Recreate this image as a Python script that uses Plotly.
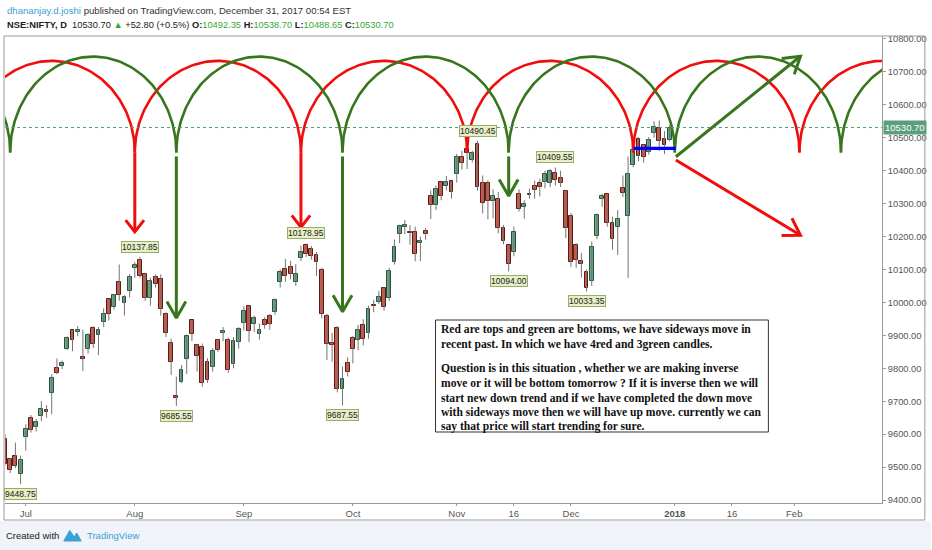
import math
import plotly.graph_objects as go

# ---------------- data (NSE:NIFTY daily, 27 Jun 2017 .. 29 Dec 2017) ----------------
opens = [9585, 9524, 9535, 9478, 9593, 9648, 9621, 9654, 9672, 9724,
         9800, 9806, 9860, 9915, 9910, 9835, 9859, 9922, 9902, 9940,
         10011, 9985, 10063, 9998, 10035, 10103, 10130, 10085, 10013, 10078,
         10071, 9964, 9876, 9716, 9758, 9828, 9946, 9870, 9866, 9820,
         9805, 9886, 9907, 9886, 9813, 9880, 9937, 9988, 9933, 9905,
         9948, 9958, 9970, 10063, 10102, 10108, 10062, 10134, 10175, 10163,
         10144, 10097, 9960, 9876, 9922, 9737, 9817, 9893, 9886, 9930,
         9907, 9991, 10000, 10044, 10012, 10124, 10208, 10230, 10215, 10214,
         10179, 10218, 10324, 10295, 10366, 10354, 10368, 10390, 10440, 10465,
         10432, 10482, 10362, 10361, 10309, 10314, 10227, 10175, 10153, 10328,
         10290, 10330, 10353, 10361, 10366, 10362, 10393, 10378, 10337, 10263,
         10175, 10125, 10092, 10066, 10202, 10313, 10328, 10240, 10230, 10348,
         10263, 10417, 10497, 10477, 10457, 10513, 10530, 10497, 10492.35]
highs = [9600, 9528, 9575, 9535, 9630, 9658, 9646, 9700, 9688, 9782,
         9830, 9824, 9897, 9917, 9928, 9917, 9907, 9928, 9925, 9982,
         10011, 10025, 10115, 10022, 10086, 10123, 10137.85, 10090, 10075, 10085,
         10085, 9970, 9890, 9775, 9810, 9903, 9947, 9874, 9875, 9830,
         9861, 9890, 9925, 9893, 9895, 9925, 9988, 9990, 9960, 9936,
         9955, 9965, 10012, 10100, 10132, 10126, 10116, 10172, 10178.95, 10171,
         10153, 10105, 9965, 9907, 9928, 9805, 9833, 9898, 9932, 9949,
         9990, 10008, 10035, 10046, 10105, 10191, 10236, 10250, 10235, 10230,
         10200, 10226, 10340, 10355, 10366, 10384, 10368, 10451, 10460, 10485,
         10460, 10490.45, 10385, 10370, 10343, 10335, 10235, 10175, 10230, 10343,
         10310, 10345, 10370, 10375, 10400, 10405, 10409.55, 10400, 10340, 10272,
         10180, 10150, 10100, 10185, 10270, 10330, 10330, 10260, 10280, 10385,
         10443, 10470, 10502, 10480, 10502, 10550, 10552, 10520, 10538.70]
lows = [9505, 9482, 9497, 9448.75, 9550, 9605, 9608, 9640, 9650, 9660,
        9782, 9798, 9856, 9852, 9898, 9792, 9845, 9862, 9840, 9925,
        9945, 9978, 10005, 9960, 10015, 10075, 10075, 10005, 9990, 10045,
        9960, 9895, 9780, 9685.55, 9755, 9783, 9883, 9790, 9744, 9756,
        9790, 9850, 9882, 9786, 9800, 9860, 9915, 9880, 9911, 9887,
        9920, 9917, 9963, 10045, 10063, 10070, 10050, 10125, 10138, 10130,
        10080, 9952, 9825, 9820, 9727, 9687.55, 9775, 9815, 9855, 9870,
        9890, 9970, 9995, 9975, 10005, 10115, 10180, 10207, 10175, 10125,
        10125, 10190, 10253, 10280, 10310, 10340, 10315, 10364, 10403, 10405,
        10425, 10340, 10270, 10252, 10255, 10210, 10176, 10094, 10140, 10276,
        10254, 10315, 10315, 10322, 10346, 10350, 10355, 10350, 10195, 10108,
        10105, 10075, 10033.35, 10050, 10192, 10290, 10230, 10160, 10144, 10320,
        10074, 10410, 10428, 10424, 10448, 10500, 10460, 10450, 10488.65]
closes = [9511, 9491, 9504, 9521, 9615, 9613, 9638, 9675, 9666, 9771,
          9786, 9816, 9892, 9886, 9916, 9827, 9900, 9873, 9915, 9966,
          9965, 10021, 10021, 10015, 10077, 10115, 10081.5, 10014, 10066, 10057,
          9979, 9908, 9820, 9711, 9794, 9897, 9904, 9837, 9754, 9766,
          9853, 9857, 9913, 9796, 9884, 9918, 9974, 9913, 9952, 9916,
          9930, 9935, 10006, 10093, 10079, 10087, 10085, 10153, 10147.5, 10141,
          10122, 9964, 9873, 9871.5, 9736, 9769, 9789, 9860, 9915, 9889,
          9980, 9989, 10017, 9985, 10096, 10167, 10231, 10234, 10211, 10147,
          10185, 10208, 10295, 10344, 10323, 10364, 10335, 10440.5, 10423.5, 10452.5,
          10452, 10350, 10303, 10309, 10322, 10225, 10187, 10118, 10215, 10284,
          10299, 10327, 10342, 10349, 10390, 10400, 10370, 10361, 10227, 10122,
          10128, 10118, 10044, 10167, 10266, 10322, 10240, 10193, 10252, 10333,
          10389, 10463, 10444, 10440, 10493, 10531.5, 10491, 10478, 10530.70]

# time-axis labels (bar index of first session of each label)
tick_pos = [4, 25, 46, 67, 87, 98, 109, 129, 140, 152]
tick_text = ["Jul", "Aug", "Sep", "Oct", "Nov", "16", "Dec", "<b>2018</b>", "16", "Feb"]
price_ticks = list(range(9400, 10801, 100))

# high / low marker labels
label_idx = [3, 26, 33, 58, 65, 91, 97, 106, 112]
label_kind = ["low", "high", "low", "high", "low", "high", "low", "high", "low"]

# cycle drawings (bar index of cusps) and drawn arrows
red_cusps = [-7, 25, 57, 89, 121, 153, 185]
green_cusps = [-31, 1, 33, 65, 97, 129, 161, 193]
cycle_base = 10455
red_peak = 10733
green_peak = 10746
red_drops = [(25, 10455, 10214), (57, 10455, 10228)]
green_drops = [(33, 10443, 9953), (65, 10443, 9972), (97, 10443, 10323)]
green_diag = ((129.2, 10442), (153.2, 10747))
red_diag = ((129.2, 10432), (153.2, 10204))
blue_seg = ((121.1, 10467.6), (129.2, 10467.6))
last_price = 10530.70

# ---------------- layout geometry ----------------
W, H = 932, 550
L, R, T, B = 5, 885, 36, 503
X0, X1 = 0.0, 168.9
Y0, Y1 = 9391.2, 10808.5
kx = (R - L) / (X1 - X0)
ky = (B - T) / (Y1 - Y0)


def px(x):
    return (x - L) / (R - L)


def py(y):
    return (B - y) / (B - T)


UP_FILL, DN_FILL = "#6ba583", "#d75442"
UP_LINE, DN_LINE = "#225437", "#5b1a13"
WICK = "#737375"
RED = "#f20d0d"
GREEN = "#38761d"
SANS = "Liberation Sans, Arial, sans-serif"

fig = go.Figure()

# wicks
wx, wy = [], []
for i, (hi, lo) in enumerate(zip(highs, lows)):
    wx += [i, i, None]
    wy += [lo, hi, None]
fig.add_trace(go.Scatter(x=wx, y=wy, mode="lines", line=dict(color=WICK, width=1),
                         hoverinfo="skip", showlegend=False))

# bodies
for up in (True, False):
    idx = [i for i, (o, c) in enumerate(zip(opens, closes)) if (c >= o) == up]
    fig.add_trace(go.Bar(
        x=idx,
        base=[min(opens[i], closes[i]) for i in idx],
        y=[abs(closes[i] - opens[i]) for i in idx],
        width=0.74,
        marker=dict(color=UP_FILL if up else DN_FILL,
                    line=dict(color=UP_LINE if up else DN_LINE, width=1)),
        hoverinfo="skip", showlegend=False))

# last price dotted line
fig.add_shape(type="line", xref="paper", x0=0, x1=1, yref="y", y0=last_price, y1=last_price,
              line=dict(color="#4e9c7a", width=1, dash="dot"))


# cycle arcs
def arcs(cusps, peak, color):
    xs, ys = [], []
    for a, b in zip(cusps[:-1], cusps[1:]):
        c = (a + b) / 2.0
        r = (b - a) / 2.0
        for k in range(121):
            t = math.pi * k / 120
            xs.append(c + r * math.cos(t))
            ys.append(cycle_base + (peak - cycle_base) * math.sin(t))
        xs.append(None)
        ys.append(None)
    fig.add_trace(go.Scatter(x=xs, y=ys, mode="lines", line=dict(color=color, width=2.6),
                             hoverinfo="skip", showlegend=False))


arcs(red_cusps, red_peak, RED)
arcs(green_cusps, green_peak, GREEN)


def head(start, tip, length, ang):
    sx, sy = start[0] * kx, -start[1] * ky
    tx, ty = tip[0] * kx, -tip[1] * ky
    dx, dy = tx - sx, ty - sy
    n = math.hypot(dx, dy)
    ux, uy = dx / n, dy / n
    out = []
    for s in (1, -1):
        c, si = math.cos(s * ang), math.sin(s * ang)
        rx, ry = ux * c - uy * si, ux * si + uy * c
        out.append(((tx - length * rx) / kx, -(ty - length * ry) / ky))
    return out


def arrow(start, tip, color, length, ang, width=3):
    a1, a2 = head(start, tip, length, ang)
    xs = [start[0], tip[0], None, a1[0], tip[0], a2[0]]
    ys = [start[1], tip[1], None, a1[1], tip[1], a2[1]]
    fig.add_trace(go.Scatter(x=xs, y=ys, mode="lines",
                             line=dict(color=color, width=width),
                             hoverinfo="skip", showlegend=False))


for i, y0, y1 in red_drops:
    arrow((i, y0), (i, y1), RED, 15, math.radians(38))
for i, y0, y1 in green_drops:
    arrow((i, y0), (i, y1), GREEN, 19, math.radians(30))
arrow(green_diag[0], green_diag[1], GREEN, 19, math.radians(32))
arrow(red_diag[0], red_diag[1], RED, 19, math.radians(32))

fig.add_trace(go.Scatter(x=[blue_seg[0][0], blue_seg[1][0]], y=[blue_seg[0][1], blue_seg[1][1]],
                         mode="lines", line=dict(color="#0000ff", width=3.2),
                         hoverinfo="skip", showlegend=False))

annotations = []
# high / low labels
for i, kind in zip(label_idx, label_kind):
    val = highs[i] if kind == "high" else lows[i]
    annotations.append(dict(
        x=i, y=val, xref="x", yref="y", text=f"{val:.2f}", showarrow=False,
        yanchor="bottom" if kind == "high" else "top",
        yshift=4 if kind == "high" else -4,
        font=dict(family=SANS, size=8.5, color="#222"),
        bgcolor="#e6efc6", bordercolor="#98ad6a", borderwidth=1, borderpad=0))

# last price tag on axis
annotations.append(dict(x=1, xref="paper", y=last_price, yref="y", xanchor="left",
                        text="10530.70", showarrow=False, xshift=1,
                        font=dict(family=SANS, size=9.5, color="white"),
                        bgcolor="#5a9f7d", borderpad=1))

# header
annotations.append(dict(
    x=px(5), y=py(10), xref="paper", yref="paper", xanchor="left", yanchor="middle",
    showarrow=False, font=dict(family=SANS, size=9.6, color="#333"),
    text="<span style='color:#3ba0d6'>dhananjay.d.joshi</span> published on TradingView.com, "
         "December 31, 2017 00:54 EST"))
G = "#3aa63a"
annotations.append(dict(
    x=px(5), y=py(24.5), xref="paper", yref="paper", xanchor="left", yanchor="middle",
    showarrow=False, font=dict(family=SANS, size=9.3, color="#222"),
    text=(f"<b>NSE:NIFTY, D</b>  10530.70 <span style='color:{G}'>▲</span> +52.80 (+0.5%) "
          f"<b>O:</b><span style='color:{G}'>10492.35</span> <b>H:</b><span style='color:{G}'>10538.70</span> "
          f"<b>L:</b><span style='color:{G}'>10488.65</span> <b>C:</b><span style='color:{G}'>10530.70</span>")))

# text box
box_lines = [
    (329, "Red are tops and green are bottoms, we have sideways move in"),
    (344, "recent past. In which we have 4red and 3green candles."),
    (368.5, "Question is in this situation , whether we are making inverse"),
    (383.5, "move or it will be bottom tomorrow ? If it is inverse then we will"),
    (398, "start new down trend and if we have completed the down move"),
    (412.5, "with sideways move then we will have up move. currently we can"),
    (426.5, "say that price will start trending for sure."),
]
for yy, t in box_lines:
    annotations.append(dict(x=px(440), y=py(yy), xref="paper", yref="paper",
                            xanchor="left", yanchor="middle", showarrow=False, text=f"<b>{t}</b>",
                            font=dict(family="Liberation Serif, Times New Roman, serif", size=11.6,
                                      color="#111")))

# footer
annotations.append(dict(x=px(4), y=py(535), xref="paper", yref="paper", xanchor="left",
                        yanchor="middle", showarrow=False, text="Created with",
                        font=dict(family=SANS, size=9.5, color="#222")))
annotations.append(dict(x=px(85), y=py(535), xref="paper", yref="paper", xanchor="left",
                        yanchor="middle", showarrow=False, text="TradingView",
                        font=dict(family=SANS, size=9.5, color="#3ba0d6")))

shapes = [
    # footer background
    dict(type="rect", xref="paper", yref="paper", x0=px(-2), x1=px(934), y0=py(521), y1=py(552),
         fillcolor="#f0f3f7", line=dict(width=0), layer="below"),
    # pane frame
    dict(type="rect", xref="paper", yref="paper", x0=px(4), x1=px(928), y0=py(520), y1=py(T),
         line=dict(color="#9a9a9a", width=1)),
    # text box
    dict(type="rect", xref="paper", yref="paper", x0=px(437), x1=px(771), y0=py(432), y1=py(320),
         fillcolor="white", line=dict(color="#333", width=1), layer="above"),
    # logo
    dict(type="path", xref="paper", yref="paper",
         path=(f"M {px(64)},{py(541)} L {px(70)},{py(530.5)} L {px(74.5)},{py(537)} "
               f"L {px(77)},{py(533)} L {px(81.5)},{py(541)} Z"),
         fillcolor="#3ba0d6", line=dict(color="#3ba0d6", width=1)),
]
fig.layout.shapes = list(fig.layout.shapes) + shapes

fig.update_layout(
    width=W, height=H,
    margin=dict(l=L, r=W - R, t=T, b=H - B, pad=0),
    paper_bgcolor="white", plot_bgcolor="white",
    barmode="overlay", bargap=0, showlegend=False,
    annotations=annotations,
    xaxis=dict(range=[X0, X1], tickmode="array", tickvals=tick_pos, ticktext=tick_text,
               showgrid=False, zeroline=False, showline=True, linecolor="#9a9a9a", linewidth=1,
               ticks="outside", ticklen=2, tickcolor="#9a9a9a",
               tickfont=dict(family=SANS, size=9.5, color="#555"), fixedrange=True),
    yaxis=dict(range=[Y0, Y1], side="right", tickmode="array", tickvals=price_ticks,
               ticktext=[f"{v:.2f}" for v in price_ticks],
               showgrid=False, zeroline=False, showline=True, linecolor="#9a9a9a", linewidth=1,
               ticks="outside", ticklen=3, tickcolor="#9a9a9a",
               tickfont=dict(family=SANS, size=9.3, color="#555"), fixedrange=True),
)

fig.write_html("out.html", config={"displayModeBar": False},
               post_script="document.body.style.margin='0';document.body.style.padding='0';")
